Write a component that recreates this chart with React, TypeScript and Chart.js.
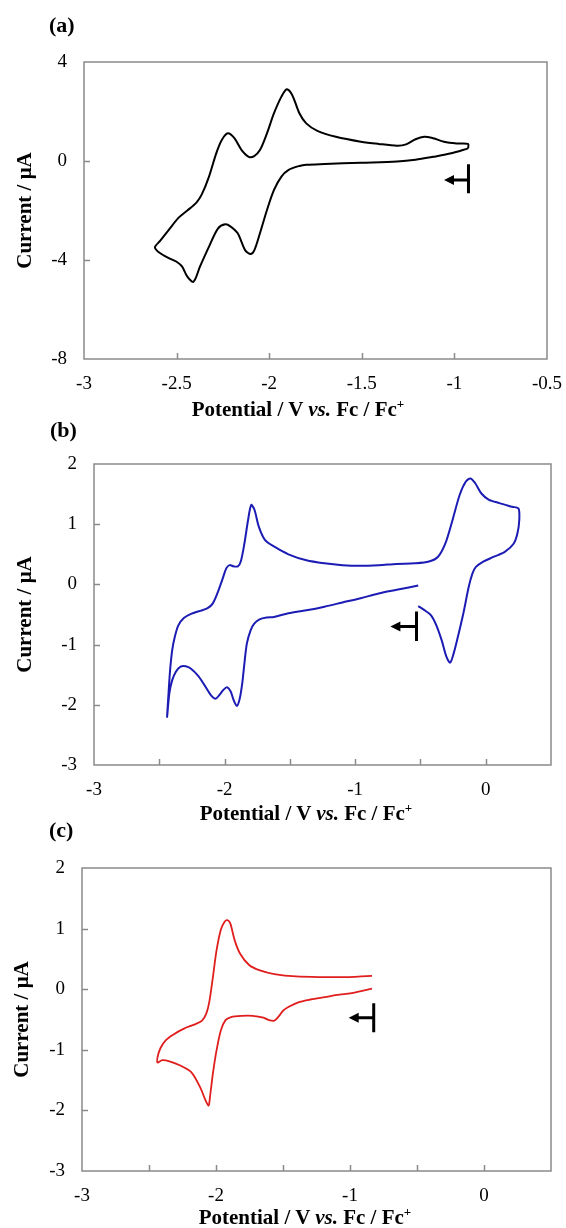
import React, { useEffect, useRef } from 'react';
import { Chart, registerables } from 'chart.js';

Chart.register(...registerables);

// ---- Panel (a): cyclic voltammogram, scan starts at -0.93 V towards negative potentials ----
const aPotential = [
  -0.926, -1.017, -1.115, -1.21, -1.31, -1.505, -1.7, -1.8, -1.837, -1.895, -1.934, -1.974, -2.012, -2.05,
  -2.08, -2.1, -2.13, -2.17, -2.208, -2.237, -2.276, -2.325, -2.374, -2.409, -2.442, -2.47, -2.5, -2.54,
  -2.588, -2.617, -2.588, -2.54, -2.49, -2.442, -2.393, -2.364, -2.325, -2.286, -2.256, -2.223, -2.188,
  -2.149, -2.11, -2.081, -2.05, -2.012, -1.974, -1.934, -1.905, -1.876, -1.837, -1.8, -1.74, -1.64, -1.505,
  -1.41, -1.31, -1.261, -1.21, -1.163, -1.115, -1.056, -0.988, -0.926, -0.926,
];
const aCurrent = [
  0.51, 0.31, 0.17, 0.05, -0.02, -0.07, -0.12, -0.15, -0.2, -0.36, -0.63, -1.17, -1.98, -2.92,
  -3.6, -3.76, -3.6, -2.92, -2.65, -2.56, -2.72, -3.46, -4.27, -4.88, -4.67, -4.27, -4.07, -3.93,
  -3.73, -3.49, -3.22, -2.76, -2.3, -2.0, -1.68, -1.35, -0.63, 0.31, 0.85, 1.12, 0.92,
  0.44, 0.17, 0.2, 0.44, 1.12, 1.93, 2.6, 2.9, 2.67, 1.93, 1.52, 1.22, 0.98, 0.78,
  0.69, 0.62, 0.67, 0.88, 0.98, 0.92, 0.78, 0.71, 0.69, 0.51,
];

// ---- Panel (b) ----
const bPotential = [
  -0.517, -0.682, -0.82, -0.958, -1.097, -1.235, -1.373, -1.511, -1.622, -1.677, -1.732, -1.773, -1.8, -1.829,
  -1.848, -1.865, -1.884, -1.906, -1.931, -1.953, -1.981, -2.008, -2.041, -2.069, -2.105, -2.146, -2.202,
  -2.257, -2.298, -2.34, -2.373, -2.401, -2.423, -2.44, -2.431, -2.417, -2.401, -2.381, -2.354, -2.312,
  -2.257, -2.188, -2.133, -2.091, -2.05, -2.014, -1.986, -1.961, -1.931, -1.898, -1.876, -1.848, -1.82,
  -1.796, -1.771, -1.738, -1.691, -1.622, -1.511, -1.373, -1.235, -1.097, -0.958, -0.82, -0.682, -0.544,
  -0.434, -0.365, -0.309, -0.254, -0.199, -0.152, -0.116, -0.08, -0.033, 0.022, 0.105, 0.202, 0.251, 0.257,
  0.243, 0.215, 0.146, 0.064, -0.019, -0.075, -0.102, -0.13, -0.171, -0.213, -0.246, -0.273, -0.301, -0.337,
  -0.378, -0.42, -0.475, -0.517,
];
const bCurrent = [
  -0.02, -0.09, -0.15, -0.23, -0.3, -0.37, -0.43, -0.48, -0.54, -0.55, -0.58, -0.65, -0.76, -0.98,
  -1.31, -1.65, -1.9, -2.02, -1.92, -1.78, -1.71, -1.75, -1.84, -1.9, -1.84, -1.7, -1.52,
  -1.4, -1.36, -1.37, -1.45, -1.59, -1.81, -2.2, -1.87, -1.42, -1.09, -0.87, -0.68, -0.56,
  -0.49, -0.44, -0.4, -0.32, -0.12, 0.1, 0.27, 0.32, 0.3, 0.3, 0.38, 0.68, 1.07,
  1.32, 1.24, 0.96, 0.74, 0.63, 0.5, 0.4, 0.35, 0.32, 0.31, 0.32, 0.34, 0.35,
  0.38, 0.46, 0.68, 1.07, 1.49, 1.71, 1.76, 1.68, 1.51, 1.41, 1.35, 1.29, 1.26, 1.07,
  0.85, 0.68, 0.54, 0.46, 0.38, 0.29, 0.18, -0.04, -0.48, -0.87, -1.15, -1.3, -1.2, -0.93,
  -0.68, -0.51, -0.42, -0.36,
];

// ---- Panel (c) ----
const cPotential = [
  -0.836, -0.917, -0.998, -1.079, -1.187, -1.295, -1.376, -1.457, -1.497, -1.532, -1.565, -1.605, -1.646,
  -1.726, -1.807, -1.888, -1.929, -1.964, -1.996, -2.023, -2.045, -2.055, -2.077, -2.118, -2.185, -2.266,
  -2.347, -2.401, -2.436, -2.436, -2.414, -2.374, -2.32, -2.239, -2.158, -2.104, -2.072, -2.05, -2.023,
  -1.996, -1.964, -1.937, -1.915, -1.894, -1.861, -1.821, -1.753, -1.672, -1.565, -1.403, -1.187, -1.025,
  -0.917, -0.836,
];
const cCurrent = [
  0.01, -0.03, -0.07, -0.09, -0.13, -0.17, -0.21, -0.29, -0.35, -0.45, -0.52, -0.51, -0.47,
  -0.44, -0.44, -0.46, -0.51, -0.68, -1.01, -1.39, -1.78, -1.92, -1.84, -1.62, -1.37, -1.26,
  -1.19, -1.17, -1.21, -1.12, -0.97, -0.84, -0.75, -0.65, -0.58, -0.52, -0.4, -0.21, 0.2,
  0.64, 0.98, 1.11, 1.14, 1.09, 0.81, 0.59, 0.4, 0.31, 0.25, 0.21, 0.2, 0.2,
  0.21, 0.22,
];

// Scan-start markers (potential of the bar, current span of the bar, arrow tip potential, arrow current)
const aScanStart = { potential: -0.924, barHigh: -0.13, barLow: -1.3, tip: -1.056, level: -0.77 };
const bScanStart = { potential: -0.53, barHigh: -0.45, barLow: -0.94, tip: -0.73, level: -0.7 };
const cScanStart = { potential: -0.823, barHigh: -0.23, barLow: -0.71, tip: -1.01, level: -0.47 };

// Axis ranges and tick steps
const aXRange = [-3, -0.5];
const aYRange = [-8, 4];
const aYStep = 4;
const bcXRange = [-3, 0.5];
const bcYRange = [-3, 2];
const bcYStep = 1;
const xStep = 0.5;

const SERIF = '"Liberation Serif", "Times New Roman", serif';

type ScanMark = { potential: number; barHigh: number; barLow: number; tip: number; level: number };

type PanelSpec = {
  tag: string;
  potential: number[];
  current: number[];
  color: string;
  lineWidth: number;
  xRange: number[];
  yRange: number[];
  yStep: number;
  integerXLabels: boolean;
  scan: ScanMark;
  canvasTop: number;
  canvasHeight: number;
  padTop: number;
  padRight: number;
  yWidth: number;
  xHeight: number;
  yTitlePad: number;
  tagLeft: number;
  tagY: number;
  xTitleX: number;
  xTitleY: number;
};

function decorPlugin(scan: ScanMark) {
  return {
    id: 'decor',
    afterDatasetsDraw(chart: any) {
      const { ctx, chartArea } = chart;
      const { left, right, top, bottom } = chartArea;
      const x = chart.scales.x;
      const y = chart.scales.y;
      ctx.save();
      // frame round the plot area
      ctx.strokeStyle = '#8a8a8a';
      ctx.lineWidth = 1.5;
      ctx.strokeRect(left, top, right - left, bottom - top);
      // inward tick marks
      ctx.beginPath();
      const tl = 6;
      x.ticks.forEach((t: any) => {
        if (t.value <= x.min || t.value >= x.max) return;
        const px = Math.round(x.getPixelForValue(t.value)) + 0.5;
        ctx.moveTo(px, bottom);
        ctx.lineTo(px, bottom - tl);
      });
      y.ticks.forEach((t: any) => {
        if (t.value <= y.min || t.value >= y.max) return;
        const py = Math.round(y.getPixelForValue(t.value)) + 0.5;
        ctx.moveTo(left, py);
        ctx.lineTo(left + tl, py);
      });
      ctx.stroke();
      // scan direction marker
      const bx = x.getPixelForValue(scan.potential);
      const by1 = y.getPixelForValue(scan.barHigh);
      const by2 = y.getPixelForValue(scan.barLow);
      const ay = y.getPixelForValue(scan.level);
      const tx = x.getPixelForValue(scan.tip);
      ctx.strokeStyle = '#000';
      ctx.fillStyle = '#000';
      ctx.lineWidth = 3;
      ctx.beginPath();
      ctx.moveTo(bx, by1);
      ctx.lineTo(bx, by2);
      ctx.moveTo(bx, ay);
      ctx.lineTo(tx + 7, ay);
      ctx.stroke();
      ctx.beginPath();
      ctx.moveTo(tx, ay);
      ctx.lineTo(tx + 10, ay - 5);
      ctx.lineTo(tx + 10, ay + 5);
      ctx.closePath();
      ctx.fill();
      ctx.restore();
    },
  };
}

function Panel({ spec }: { spec: PanelSpec }) {
  const ref = useRef<HTMLCanvasElement | null>(null);

  useEffect(() => {
    if (!ref.current) return;
    const points = spec.potential.map((v, i) => ({ x: v, y: spec.current[i] }));
    const chart = new Chart(ref.current, {
      type: 'scatter',
      data: {
        datasets: [
          {
            data: points,
            showLine: true,
            borderColor: spec.color,
            backgroundColor: spec.color,
            borderWidth: spec.lineWidth,
            pointRadius: 0,
            tension: 0.3,
          },
        ],
      },
      options: {
        animation: false,
        responsive: false,
        devicePixelRatio: 1,
        layout: { padding: { top: spec.padTop, right: spec.padRight, left: 0, bottom: 0 } },
        plugins: { legend: { display: false }, tooltip: { enabled: false } },
        scales: {
          x: {
            type: 'linear',
            min: spec.xRange[0],
            max: spec.xRange[1],
            grid: { display: false, drawTicks: false },
            border: { display: false },
            ticks: {
              stepSize: xStep,
              autoSkip: false,
              maxRotation: 0,
              color: '#000',
              // tall line box places the label centre 25px under the axis
              font: { family: SERIF, size: 19, lineHeight: '50px' },
              padding: 0,
              callback: (v: any) => {
                const n = Number(v);
                if (spec.integerXLabels && !Number.isInteger(n)) return '';
                return String(Object.is(n, -0) ? 0 : n);
              },
            },
            afterFit: (s: any) => {
              s.height = spec.xHeight;
            },
          },
          y: {
            type: 'linear',
            min: spec.yRange[0],
            max: spec.yRange[1],
            grid: { display: false, drawTicks: false },
            border: { display: false },
            ticks: {
              stepSize: spec.yStep,
              color: '#000',
              font: { family: SERIF, size: 19 },
              padding: 17,
              callback: (v: any) => String(Object.is(Number(v), -0) ? 0 : Number(v)),
            },
            title: {
              display: true,
              text: 'Current / μA',
              color: '#000',
              font: { family: SERIF, size: 21, weight: 'bold' },
              padding: { top: spec.yTitlePad, bottom: 0 },
            },
            afterFit: (s: any) => {
              s.width = spec.yWidth;
            },
          },
        },
      },
      plugins: [decorPlugin(spec.scan)],
    } as any);
    return () => chart.destroy();
  }, [spec]);

  return (
    <>
      <canvas
        ref={ref}
        width={566}
        height={spec.canvasHeight}
        style={{ position: 'absolute', left: 0, top: spec.canvasTop, width: 566, height: spec.canvasHeight }}
      />
      <div
        style={{
          position: 'absolute',
          left: spec.tagLeft,
          top: spec.tagY - 13,
          lineHeight: '26px',
          font: `bold 22px ${SERIF}`,
          color: '#000',
        }}
      >
        {spec.tag}
      </div>
      <div
        style={{
          position: 'absolute',
          left: spec.xTitleX - 200,
          width: 400,
          top: spec.xTitleY - 12,
          lineHeight: '24px',
          textAlign: 'center',
          font: `bold 21px ${SERIF}`,
          color: '#000',
          whiteSpace: 'nowrap',
        }}
      >
        Potential / V <i>vs.</i> Fc / Fc
        <span style={{ fontSize: 13, position: 'relative', top: -8 }}>+</span>
      </div>
    </>
  );
}

const panels: PanelSpec[] = [
  {
    tag: '(a)',
    potential: aPotential,
    current: aCurrent,
    color: '#000000',
    lineWidth: 2,
    xRange: aXRange,
    yRange: aYRange,
    yStep: aYStep,
    integerXLabels: false,
    scan: aScanStart,
    canvasTop: 0,
    canvasHeight: 400,
    padTop: 62,
    padRight: 19,
    yWidth: 84,
    xHeight: 41,
    yTitlePad: 13,
    tagLeft: 49,
    tagY: 25,
    xTitleX: 298,
    xTitleY: 409,
  },
  {
    tag: '(b)',
    potential: bPotential,
    current: bCurrent,
    color: '#1c1cb4',
    lineWidth: 2,
    xRange: bcXRange,
    yRange: bcYRange,
    yStep: bcYStep,
    integerXLabels: true,
    scan: bScanStart,
    canvasTop: 410,
    canvasHeight: 400,
    padTop: 54,
    padRight: 15,
    yWidth: 94,
    xHeight: 45,
    yTitlePad: 13,
    tagLeft: 50,
    tagY: 430,
    xTitleX: 306,
    xTitleY: 813,
  },
  {
    tag: '(c)',
    potential: cPotential,
    current: cCurrent,
    color: '#e01e1e',
    lineWidth: 1.8,
    xRange: bcXRange,
    yRange: bcYRange,
    yStep: bcYStep,
    integerXLabels: true,
    scan: cScanStart,
    canvasTop: 820,
    canvasHeight: 400,
    padTop: 48,
    padRight: 15,
    yWidth: 82,
    xHeight: 49,
    yTitlePad: 10,
    tagLeft: 49,
    tagY: 830,
    xTitleX: 305,
    xTitleY: 1217,
  },
];

export default function App() {
  return (
    <div style={{ position: 'absolute', left: 0, top: 0, width: 566, height: 1228, background: '#fff' }}>
      {panels.map((p) => (
        <Panel key={p.tag} spec={p} />
      ))}
    </div>
  );
}
